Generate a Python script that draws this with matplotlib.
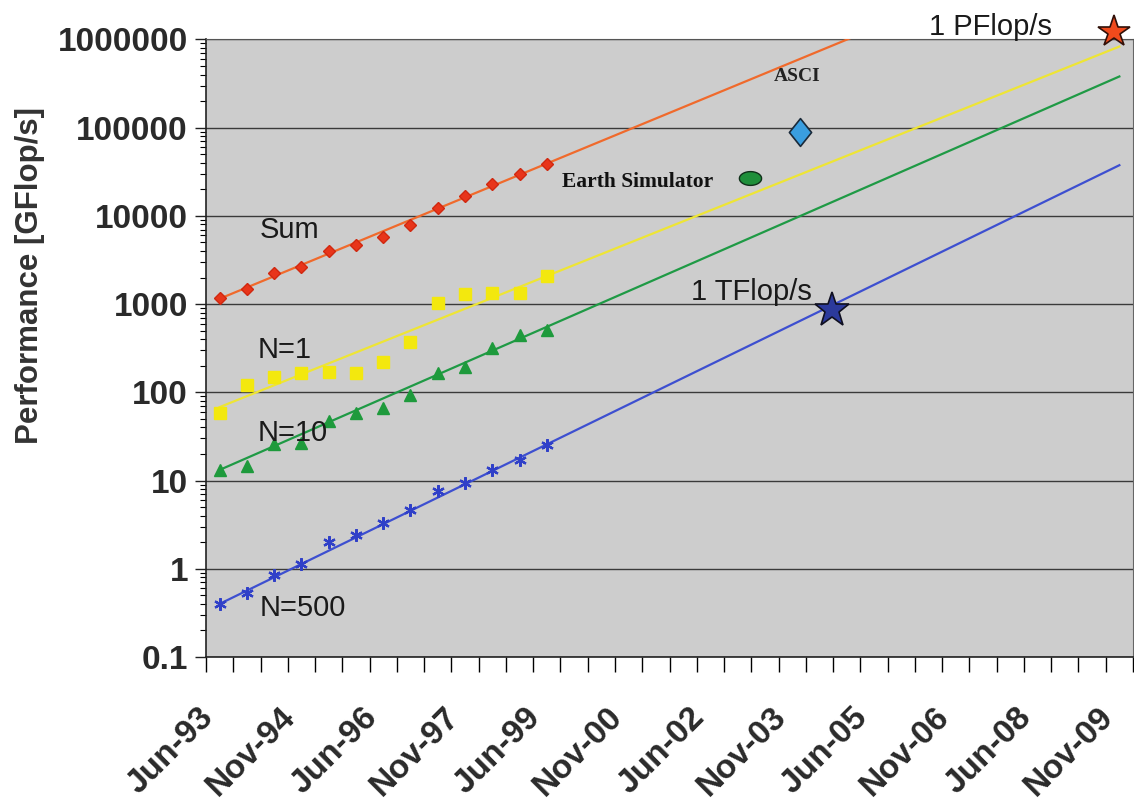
import numpy as np
import matplotlib
matplotlib.use('Agg')
import matplotlib.pyplot as plt
from matplotlib.path import Path
from matplotlib.ticker import FixedLocator, NullFormatter, LogLocator

plt.rcParams['font.family'] = ['Liberation Sans', 'DejaVu Sans']

# ---------------- data ----------------
periods = ['Jun-93', 'Nov-93', 'Jun-94', 'Nov-94', 'Jun-95', 'Nov-95',
           'Jun-96', 'Nov-96', 'Jun-97', 'Nov-97', 'Jun-98', 'Nov-98',
           'Jun-99', 'Nov-99', 'Jun-00', 'Nov-00', 'Jun-01', 'Nov-01',
           'Jun-02', 'Nov-02', 'Jun-03', 'Nov-03', 'Jun-04', 'Nov-04',
           'Jun-05', 'Nov-05', 'Jun-06', 'Nov-06', 'Jun-07', 'Nov-07',
           'Jun-08', 'Nov-08', 'Jun-09', 'Nov-09']

sum_vals = [1167, 1500, 2280, 2640, 3950, 4690, 5830, 7830, 12400, 16800, 23200, 30100, 39100]
n1_vals = [58, 122, 148, 166, 168, 166, 218, 367, 1026, 1309, 1330, 1338, 2055]
n10_vals = [13.3, 14.8, 26.2, 26.7, 46.8, 58.3, 66.4, 94, 166, 196, 318, 449, 502]
n500_vals = [0.40, 0.53, 0.84, 1.12, 2.0, 2.44, 3.31, 4.6, 7.55, 9.4, 13.1, 17.3, 25.1]

# trend (extrapolation) lines: values at first and last period
trend_idx = [0, 33]
trend_sum = [1150, 1.88e7]
trend_n1 = [68, 8.3e5]
trend_n10 = [13.2, 3.8e5]
trend_n500 = [0.40, 3.75e4]

# special systems (x in period index units, y in GFlop/s)
asci_x, asci_y = 21.3, 90000
es_x, es_y = 19.45, 27200
tflop_x, tflop_y = 22.47, 860
pflop_x, pflop_y = 32.8, 1.22e6

ytick_vals = [0.1, 1, 10, 100, 1000, 10000, 100000, 1000000]
ytick_labels = ['0.1', '1', '10', '100', '1000', '10000', '100000', '1000000']

# ---------------- figure ----------------
W, H = 1134, 806
fig = plt.figure(figsize=(W / 100, H / 100), dpi=100)
ax = fig.add_axes([206 / W, 149 / H, 927 / W, 617.6 / H])
ax.set_facecolor('#cdcdcd')
ax.set_yscale('log')
ax.set_ylim(0.1, 1e6)
ax.set_xlim(-0.5, 33.5)

x_pts = np.arange(len(sum_vals))

ax.grid(axis='y', which='major', color='#3a3a3a', lw=1.0)
ax.set_axisbelow(True)

# trend lines
ax.plot(trend_idx, trend_sum, color='#f06a2c', lw=1.6, zorder=3)
ax.plot(trend_idx, trend_n1, color='#eee535', lw=1.6, zorder=3)
ax.plot(trend_idx, trend_n10, color='#1f9a45', lw=1.6, zorder=3)
ax.plot(trend_idx, trend_n500, color='#3d4fd0', lw=1.6, zorder=3)

# measured points
ax.plot(x_pts, sum_vals, 'D', color='#e8351a', ms=6.5, mec='#d02810', zorder=4)
ax.plot(x_pts, n1_vals, 's', color='#f3e80e', ms=8, mec='#f3e80e', zorder=4)
ax.plot(x_pts, n10_vals, '^', color='#1e9a3c', ms=8, mec='#1e9a3c', zorder=4)
ax.plot(x_pts, n500_vals, marker=(6, 2, 0), ls='none', color='#3040c8',
        ms=9, mew=1.6, zorder=4)

# special markers
diamond = Path([(0, 1), (0.8, 0), (0, -1), (-0.8, 0), (0, 1)],
               [Path.MOVETO, Path.LINETO, Path.LINETO, Path.LINETO, Path.CLOSEPOLY])
ax.plot([asci_x], [asci_y], marker=diamond, ms=20, color='#3a9ee0',
        mec='#1a2a3a', mew=1.2, ls='none', zorder=5)
t = np.linspace(0, 2 * np.pi, 60)
ellipse = Path(np.column_stack([np.cos(t), 0.62 * np.sin(t)]))
ax.plot([es_x], [es_y], marker=ellipse, ms=16, color='#1e8f3a',
        mec='#10301a', mew=1.0, ls='none', zorder=5)
ax.plot([tflop_x], [tflop_y], marker='*', ms=26, color='#2c3a9c',
        mec='#101020', mew=1.2, ls='none', zorder=5, clip_on=False)
ax.plot([pflop_x], [pflop_y], marker='*', ms=24, color='#f04a1c',
        mec='#301008', mew=1.2, ls='none', zorder=6, clip_on=False)

# annotations
txt_kw = dict(fontsize=21, color='#1a1a1a', ha='center', va='center', zorder=6)
ax.text(2.58, 6900, 'Sum', **txt_kw)
ax.text(2.4, 300, 'N=1', **txt_kw)
ax.text(2.68, 34.4, 'N=10', **txt_kw)
ax.text(3.05, 0.357, 'N=500', **txt_kw)
ax.text(19.5, 1370, '1 TFlop/s', **txt_kw)
ax.text(28.28, 1.38e6, '1 PFlop/s', clip_on=False, **txt_kw)
ax.text(21.18, 3.75e5, 'ASCI', fontsize=14, fontweight='bold',
        family=['Liberation Serif', 'DejaVu Serif'], color='#222222',
        ha='center', va='center', zorder=6)
ax.text(15.32, 24200, 'Earth Simulator', fontsize=15.5, fontweight='bold',
        family=['Liberation Serif', 'DejaVu Serif'], color='#111111',
        ha='center', va='center', zorder=6)

# y axis
ax.yaxis.set_major_locator(FixedLocator(ytick_vals))
ax.set_yticklabels(ytick_labels)
ax.yaxis.set_minor_locator(LogLocator(base=10, subs=np.arange(2, 10)))
ax.yaxis.set_minor_formatter(NullFormatter())
ax.tick_params(axis='y', which='major', length=8, width=1, direction='out',
               labelsize=24, pad=5, colors='#222222')
ax.tick_params(axis='y', which='minor', length=4, width=0.8, direction='out')
for lbl in ax.get_yticklabels():
    lbl.set_fontweight('bold')
    lbl.set_color('#2a2a2a')

# x axis
ax.set_xticks(np.arange(0, 34, 3))
ax.set_xticklabels(periods[::3], rotation=45, ha='right', fontsize=24,
                   fontweight='bold', color='#2a2a2a')
ax.set_xticks(np.arange(-0.5, 34, 1), minor=True)
ax.tick_params(axis='x', which='major', length=0, pad=32)
ax.tick_params(axis='x', which='minor', length=11, width=1, direction='out')

for side in ['left', 'bottom']:
    ax.spines[side].set_color('#222222')
    ax.spines[side].set_linewidth(1.2)
ax.spines['top'].set_color('#555555')
ax.spines['top'].set_linewidth(0.8)
ax.spines['right'].set_color('#666666')
ax.spines['right'].set_linewidth(0.8)

fig.text(30 / W, 1 - 276 / H, 'Performance [GFlop/s]', rotation=90,
         ha='center', va='center', fontsize=22.5, fontweight='bold',
         color='#333333')

fig.savefig('out.png', dpi=100, facecolor='white')
